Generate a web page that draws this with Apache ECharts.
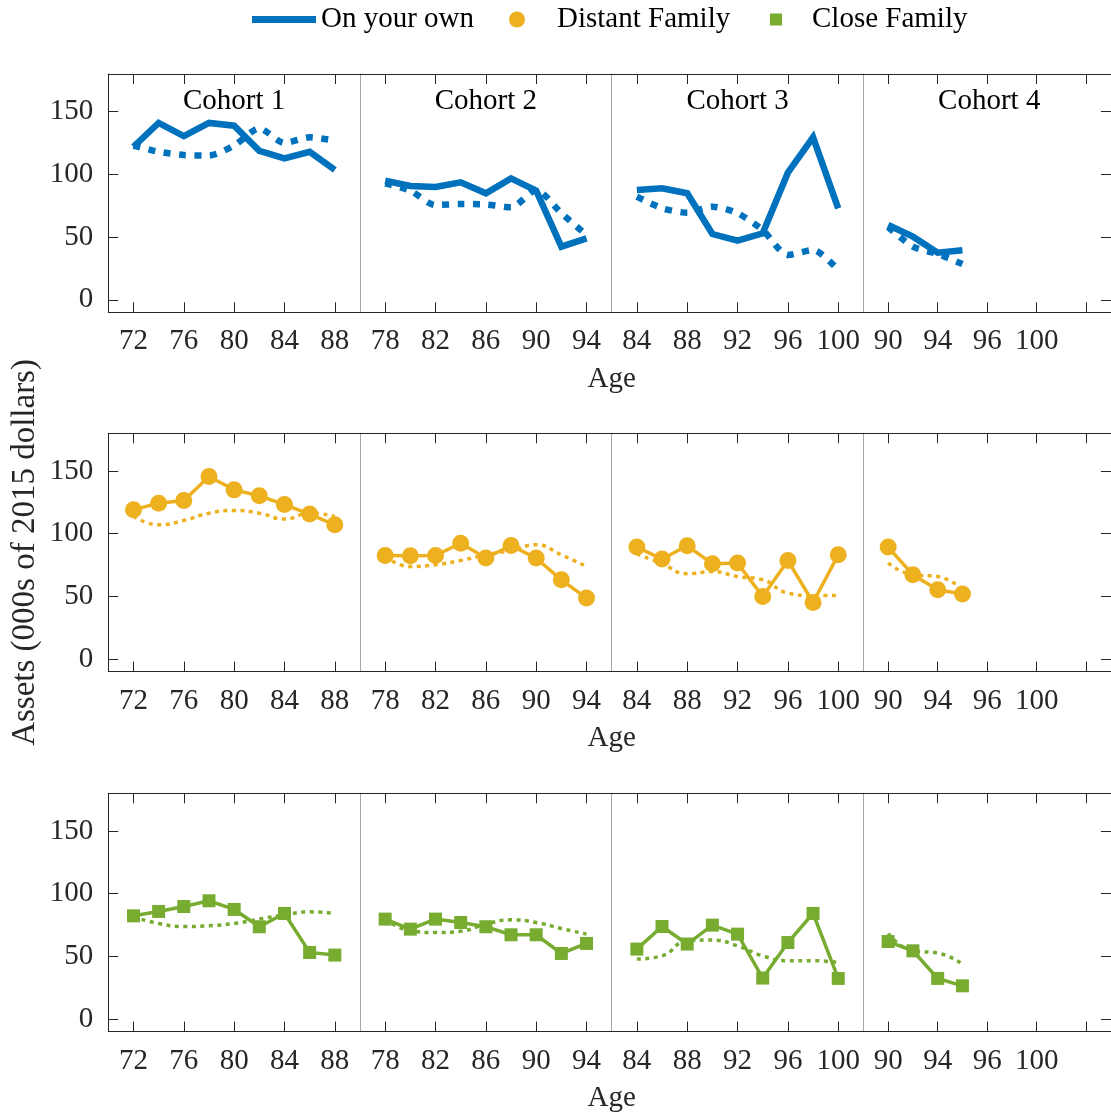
<!DOCTYPE html>
<html>
<head>
<meta charset="utf-8">
<script src="https://cdn.jsdelivr.net/npm/echarts@6/dist/echarts.min.js"></script>
<style>
  html, body { margin: 0; padding: 0; background: #fff; }
  #chart { width: 1111px; height: 1117px; }
</style>
</head>
<body>
<div id="chart"></div>
<script>
// ---- data ----------------------------------------------------------------
const cohortTitles = ['Cohort 1', 'Cohort 2', 'Cohort 3', 'Cohort 4'];
const seriesNames = ['On your own', 'Distant Family', 'Close Family'];

const agesC1 = [72, 74, 76, 78, 80, 82, 84, 86, 88];
const agesC2 = [78, 80, 82, 84, 86, 88, 90, 92, 94];
const agesC3 = [84, 86, 88, 90, 92, 94, 96, 98, 100];
const agesC4 = [90, 92, 94, 96];

// x-axis ranges (start age of each panel; every panel spans 20 years)
const xStart = [70, 76, 82, 88];
const xSpan = 20;
const xTicksC1 = [72, 76, 80, 84, 88];
const xTicksC2 = [78, 82, 86, 90, 94];
const xTicksC3 = [84, 88, 92, 96, 100];
const xTicksC4 = [90, 94, 98, 102, 106];
const xLabelsC1 = ['72', '76', '80', '84', '88'];
const xLabelsC2 = ['78', '82', '86', '90', '94'];
const xLabelsC3 = ['84', '88', '92', '96', '100'];
const xLabelsC4 = ['90', '94', '96', '100', ''];

const yTicks = [0, 50, 100, 150];
const yMin = -10, yMax = 180;

// On your own: observed (solid) and model (dotted)
const ownC1 = [122, 141, 130.5, 141, 138.8, 118.8, 112.8, 118, 103.5];
const ownC2 = [94.9, 90.7, 90, 93.6, 84.9, 96.8, 87, 42.3, 49];
const ownC3 = [87.5, 88.9, 84.9, 52.4, 47.1, 53, 101.3, 129.5, 72.9];
const ownC4 = [59.6, 50.3, 37.5, 39.5];
const ownFitC1 = [123, 118, 115.4, 115, 123, 136.7, 125, 129.5, 127];
const ownFitC2 = [92.8, 87, 75.5, 76.3, 76, 73.7, 87.5, 69, 51.6];
const ownFitC3 = [82.2, 73, 69.4, 74.2, 69, 55.6, 35.7, 39.7, 23.8];
const ownFitC4 = [58, 42.3, 36.5, 28.5];

// Distant family
const distC1 = [119, 124.3, 126.4, 145.5, 134.9, 130.2, 123.2, 115.6, 107];
const distC2 = [82.6, 82.3, 82.6, 92.4, 80.5, 90.5, 80.5, 63.2, 48.6];
const distC3 = [89.3, 79.7, 90.3, 76, 76.5, 49.9, 78.6, 45.1, 83.1];
const distC4 = [89.3, 67.2, 55.2, 51.8];
const distFitC1 = [114, 107, 110.5, 116.3, 118.5, 116.3, 111.6, 116.3, 113.7];
const distFitC2 = [82, 73.8, 75.2, 78.6, 83.1, 86.6, 91.1, 83.1, 73.8];
const distFitC3 = [83.9, 76, 68, 69.8, 65.8, 63.2, 52.6, 50.7, 50.7];
const distFitC4 = [76.5, 67.2, 65.8, 55.8];

// Close family
const closeC1 = [82.3, 85.8, 89.7, 94.3, 87.4, 73.6, 84.2, 53.1, 51];
const closeC2 = [79.7, 71.7, 79.7, 77, 73.6, 67.2, 67.2, 52.3, 60.3];
const closeC3 = [55.8, 73.8, 59.8, 74.9, 67.7, 32.7, 61, 84.2, 32.4];
const closeC4 = [61.8, 54.4, 32.4, 26.5];
const closeFitC1 = [81.5, 76.2, 73.8, 74.4, 76.2, 79.7, 83.1, 85.5, 84.2];
const closeFitC2 = [80, 70.4, 69, 70, 75.7, 79.1, 77, 72.2, 67.7];
const closeFitC3 = [47.8, 50.4, 62.4, 63, 58.4, 50.4, 46.5, 46.5, 45.1];
const closeFitC4 = [68.2, 54.4, 52.6, 43.8];

// ---- grouping for the layout loops ------------------------------------------
const ages = [agesC1, agesC2, agesC3, agesC4];
const xTicks = [xTicksC1, xTicksC2, xTicksC3, xTicksC4];
const xLabels = [xLabelsC1, xLabelsC2, xLabelsC3, xLabelsC4];
const observed = [
  [ownC1, ownC2, ownC3, ownC4],
  [distC1, distC2, distC3, distC4],
  [closeC1, closeC2, closeC3, closeC4]
];
const fitted = [
  [ownFitC1, ownFitC2, ownFitC3, ownFitC4],
  [distFitC1, distFitC2, distFitC3, distFitC4],
  [closeFitC1, closeFitC2, closeFitC3, closeFitC4]
];

// ---- styling / layout --------------------------------------------------------
const FONT = '"Liberation Serif", "Times New Roman", serif';
const INK = '#262626';
const SEP = '#a6a6a6';
const COLORS = ['#0072BD', '#EDB120', '#77AC30'];
const LEFT0 = 108.3, PANEL_W = 251.7;
const ROW_TOP = [74, 433.3, 793.3], ROW_H = 238.3;
const LABEL_SIZE = 29;

const rowStyle = [
  { width: 6.5, dash: [7, 8.5], symbol: 'none', size: 0, smooth: 0.25 },
  { width: 3.5, dash: [4, 4.5], symbol: 'circle', size: 17, smooth: 0.5 },
  { width: 3.5, dash: [4, 4.5], symbol: 'rect', size: 13, smooth: 0.5 }
];

const grids = [], xAxes = [], yAxes = [], series = [], graphics = [];

for (let r = 0; r < 3; r++) {
  for (let c = 0; c < 4; c++) {
    const gi = grids.length;
    grids.push({ left: LEFT0 + c * PANEL_W, top: ROW_TOP[r], width: PANEL_W, height: ROW_H });

    const ticks = xTicks[c], labels = xLabels[c];
    // bottom axis with labels
    xAxes.push({
      type: 'value', gridIndex: gi, position: 'bottom',
      min: xStart[c], max: xStart[c] + xSpan,
      axisLine: { show: true, onZero: false, lineStyle: { color: INK, width: 1 } },
      axisTick: { show: true, inside: true, length: 10, customValues: ticks, lineStyle: { color: INK } },
      axisLabel: {
        show: true, customValues: ticks, margin: 15,
        fontFamily: FONT, fontSize: LABEL_SIZE, color: INK,
        formatter: v => labels[ticks.indexOf(v)] ?? ''
      },
      splitLine: { show: false }
    });
    // mirrored top axis (ticks only)
    xAxes.push({
      type: 'value', gridIndex: gi, position: 'top',
      min: xStart[c], max: xStart[c] + xSpan,
      axisLine: { show: true, onZero: false, lineStyle: { color: INK, width: 1 } },
      axisTick: { show: true, inside: true, length: 10, customValues: ticks, lineStyle: { color: INK } },
      axisLabel: { show: false },
      splitLine: { show: false }
    });

    const first = c === 0;
    const yLeft = {
      type: 'value', gridIndex: gi, position: 'left', min: yMin, max: yMax,
      axisLine: { show: true, onZero: false, lineStyle: { color: first ? INK : SEP, width: 1 } },
      axisTick: { show: first, inside: true, length: 10, customValues: yTicks, lineStyle: { color: INK } },
      axisLabel: {
        show: first, customValues: yTicks, margin: 15,
        fontFamily: FONT, fontSize: LABEL_SIZE, color: INK
      },
      splitLine: { show: false }
    };
    if (first && r === 1) {
      Object.assign(yLeft, {
        name: 'Assets (000s of 2015 dollars)', nameLocation: 'middle', nameRotate: 90, nameGap: 66,
        nameTextStyle: { fontFamily: FONT, fontSize: 33, color: INK }
      });
    }
    const yi = yAxes.length;
    yAxes.push(yLeft);
    if (c === 3) {
      yAxes.push({
        type: 'value', gridIndex: gi, position: 'right', min: yMin, max: yMax,
        axisLine: { show: true, onZero: false, lineStyle: { color: INK, width: 1 } },
        axisTick: { show: true, inside: true, length: 10, customValues: yTicks, lineStyle: { color: INK } },
        axisLabel: { show: false },
        splitLine: { show: false }
      });
    }

    const st = rowStyle[r];
    const color = COLORS[r];
    // model (dotted)
    series.push({
      type: 'line', name: seriesNames[r] + ' (model)',
      xAxisIndex: gi * 2, yAxisIndex: yi,
      data: ages[c].map((a, i) => [a, fitted[r][c][i]]),
      showSymbol: false, symbol: 'none', smooth: st.smooth,
      lineStyle: { color, width: st.width, type: st.dash, cap: 'butt' },
      itemStyle: { color },
      z: 2, silent: true
    });
    // observed (solid)
    series.push({
      type: 'line', name: seriesNames[r],
      xAxisIndex: gi * 2, yAxisIndex: yi,
      data: ages[c].map((a, i) => [a, observed[r][c][i]]),
      symbol: st.symbol, symbolSize: st.size, showSymbol: st.symbol !== 'none',
      lineStyle: { color, width: st.width, join: 'miter' },
      itemStyle: { color, borderWidth: 0 },
      z: 3, silent: true
    });
  }
  // "Age" below each row
  graphics.push({
    type: 'text', x: LEFT0 + 2 * PANEL_W, y: ROW_TOP[r] + ROW_H + 67,
    style: { text: 'Age', font: `${LABEL_SIZE}px ${FONT}`, fill: INK, textAlign: 'center', textVerticalAlign: 'middle' }
  });
}

// cohort titles inside the top row
for (let c = 0; c < 4; c++) {
  graphics.push({
    type: 'text', x: LEFT0 + (c + 0.5) * PANEL_W, y: ROW_TOP[0] + 27,
    style: { text: cohortTitles[c], font: `${LABEL_SIZE}px ${FONT}`, fill: '#000', textAlign: 'center', textVerticalAlign: 'middle' }
  });
}

const legendText = { fontFamily: FONT, fontSize: LABEL_SIZE, color: '#000' };
const legends = [
  { data: [{ name: seriesNames[0], icon: 'path://M0,0H64V7H0Z' }], left: 252, itemWidth: 64, itemHeight: 7,
    textStyle: Object.assign({}, legendText) },
  { data: [{ name: seriesNames[1], icon: 'circle' }], left: 509, itemWidth: 16, itemHeight: 16,
    textStyle: Object.assign({ padding: [0, 0, 0, 27] }, legendText) },
  { data: [{ name: seriesNames[2], icon: 'path://M0,0H12V12H0Z' }], left: 770, itemWidth: 12, itemHeight: 12,
    textStyle: Object.assign({ padding: [0, 0, 0, 25] }, legendText) }
].map(l => Object.assign({ top: 5, padding: 0, selectedMode: false }, l));

const chart = echarts.init(document.getElementById('chart'), null, { renderer: 'canvas' });
chart.setOption({
  animation: false,
  backgroundColor: '#fff',
  legend: legends,
  grid: grids,
  xAxis: xAxes,
  yAxis: yAxes,
  series: series,
  graphic: graphics
});
</script>
</body>
</html>
